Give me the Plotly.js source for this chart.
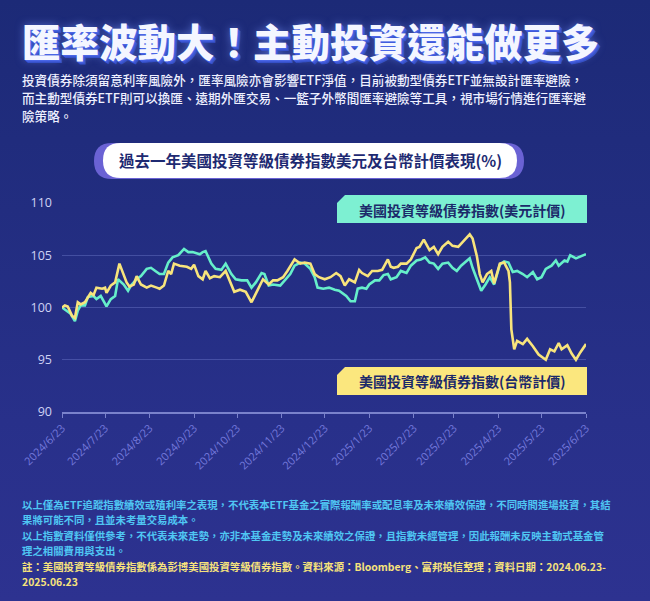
<!DOCTYPE html>
<html>
<head>
<meta charset="utf-8">
<script src="https://cdn.plot.ly/plotly-3.0.1.min.js"></script>
<style>
html,body{margin:0;padding:0;}
body{width:650px;height:601px;overflow:hidden;background:linear-gradient(180deg,#1c2a77 0%,#222d80 35%,#28308a 70%,#2d3290 100%);}
#chart{width:650px;height:601px;}
</style>
</head>
<body>
<div id="chart"></div>
<script>
// ---- data ----
const usdName = '美國投資等級債券指數(美元計價)';
const twdName = '美國投資等級債券指數(台幣計價)';
const usdDates = ['2024-06-23','2024-06-26','2024-06-29','2024-07-02','2024-07-04','2024-07-06','2024-07-09','2024-07-11','2024-07-15','2024-07-17','2024-07-20','2024-07-22','2024-07-24','2024-07-27','2024-07-30','2024-08-01','2024-08-05','2024-08-08','2024-08-10','2024-08-14','2024-08-17','2024-08-21','2024-08-24','2024-08-27','2024-08-30','2024-09-02','2024-09-05','2024-09-08','2024-09-12','2024-09-16','2024-09-19','2024-09-22','2024-09-27','2024-09-29','2024-10-01','2024-10-05','2024-10-08','2024-10-12','2024-10-15','2024-10-19','2024-10-22','2024-10-26','2024-10-30','2024-11-02','2024-11-05','2024-11-09','2024-11-11','2024-11-14','2024-11-17','2024-11-22','2024-11-26','2024-11-29','2024-12-02','2024-12-06','2024-12-09','2024-12-13','2024-12-16','2024-12-18','2024-12-22','2024-12-26','2024-12-30','2025-01-02','2025-01-07','2025-01-10','2025-01-13','2025-01-15','2025-01-18','2025-01-21','2025-01-23','2025-01-27','2025-01-30','2025-02-02','2025-02-05','2025-02-07','2025-02-11','2025-02-14','2025-02-18','2025-02-21','2025-02-25','2025-02-28','2025-03-03','2025-03-06','2025-03-09','2025-03-12','2025-03-15','2025-03-19','2025-03-22','2025-03-25','2025-03-28','2025-04-01','2025-04-03','2025-04-05','2025-04-08','2025-04-11','2025-04-14','2025-04-17','2025-04-20','2025-04-24','2025-04-27','2025-04-30','2025-05-03','2025-05-06','2025-05-10','2025-05-13','2025-05-17','2025-05-20','2025-05-23','2025-05-26','2025-05-30','2025-06-02','2025-06-04','2025-06-08','2025-06-10','2025-06-12','2025-06-16','2025-06-19','2025-06-23'];
const usdValues = [100.0,99.7,99.4,98.7,99.7,100.2,100.2,101.0,101.1,100.8,101.1,100.6,100.1,100.8,101.1,102.7,102.2,101.6,102.1,102.7,103.0,103.7,103.8,103.5,103.2,103.2,104.3,104.8,105.0,105.6,105.3,105.3,105.1,105.3,105.4,104.2,103.7,103.6,104.2,103.2,102.7,102.6,102.6,101.9,102.4,103.3,103.2,102.1,102.2,102.1,102.7,103.2,104.0,104.3,104.2,103.7,102.9,101.9,101.8,101.9,101.7,101.6,101.1,100.6,100.6,101.8,101.9,101.8,102.2,102.6,102.6,103.1,103.2,102.7,102.9,103.5,103.3,104.0,104.5,104.6,104.8,104.3,104.2,103.7,104.2,104.3,103.8,103.5,104.0,104.5,104.7,103.8,102.7,101.6,102.2,102.9,102.2,104.1,104.4,104.3,103.4,103.5,103.2,102.9,103.4,102.7,102.9,103.7,104.0,104.5,104.0,104.5,104.4,105.0,104.7,104.9,105.1];
const twdDates = ['2024-06-23','2024-06-25','2024-06-27','2024-06-30','2024-07-02','2024-07-04','2024-07-06','2024-07-09','2024-07-13','2024-07-15','2024-07-17','2024-07-21','2024-07-23','2024-07-24','2024-07-27','2024-07-30','2024-08-02','2024-08-04','2024-08-07','2024-08-09','2024-08-12','2024-08-14','2024-08-17','2024-08-21','2024-08-24','2024-08-28','2024-08-30','2024-09-02','2024-09-05','2024-09-07','2024-09-09','2024-09-13','2024-09-18','2024-09-21','2024-09-23','2024-09-26','2024-09-29','2024-10-01','2024-10-04','2024-10-07','2024-10-11','2024-10-15','2024-10-19','2024-10-21','2024-10-25','2024-10-29','2024-11-02','2024-11-05','2024-11-08','2024-11-10','2024-11-14','2024-11-17','2024-11-20','2024-11-24','2024-11-27','2024-12-02','2024-12-06','2024-12-09','2024-12-13','2024-12-16','2024-12-19','2024-12-23','2024-12-27','2024-12-31','2025-01-03','2025-01-06','2025-01-09','2025-01-13','2025-01-16','2025-01-18','2025-01-22','2025-01-25','2025-01-29','2025-02-01','2025-02-05','2025-02-07','2025-02-09','2025-02-12','2025-02-14','2025-02-18','2025-02-21','2025-02-25','2025-02-27','2025-03-02','2025-03-06','2025-03-09','2025-03-12','2025-03-15','2025-03-19','2025-03-22','2025-03-26','2025-03-28','2025-04-01','2025-04-03','2025-04-05','2025-04-08','2025-04-10','2025-04-12','2025-04-15','2025-04-18','2025-04-20','2025-04-24','2025-04-27','2025-04-30','2025-05-01','2025-05-02','2025-05-04','2025-05-06','2025-05-10','2025-05-13','2025-05-17','2025-05-21','2025-05-26','2025-05-29','2025-06-01','2025-06-04','2025-06-06','2025-06-10','2025-06-13','2025-06-16','2025-06-19','2025-06-23'];
const twdValues = [100.0,100.2,100.1,99.2,99.0,100.5,100.3,100.5,101.4,101.2,101.9,101.8,101.9,101.4,102.1,102.4,104.2,103.5,102.4,102.0,102.2,103.0,102.2,101.9,102.1,101.9,101.8,102.1,103.5,103.2,104.2,104.0,103.9,103.7,104.1,103.0,102.7,103.5,102.8,103.0,102.9,103.5,102.1,101.5,101.7,101.5,100.5,101.3,102.1,102.7,102.2,102.6,102.6,102.9,103.5,104.6,104.2,104.3,104.2,103.2,102.9,102.7,102.9,103.3,103.0,102.1,102.7,102.4,103.6,103.3,103.0,103.5,103.5,103.6,104.6,103.9,103.8,103.9,104.2,104.2,104.6,105.7,105.8,106.5,105.5,105.8,105.1,105.8,106.3,105.9,105.8,106.1,106.7,107.0,106.6,104.9,103.2,102.4,103.2,103.5,102.3,104.2,104.3,103.5,102.4,97.9,96.0,96.8,96.5,97.0,96.3,95.5,95.0,96.0,95.8,96.6,96.0,96.4,95.6,95.0,95.7,96.5];
const tickDates = ['2024-06-23','2024-07-23','2024-08-23','2024-09-23','2024-10-23','2024-11-23','2024-12-23','2025-01-23','2025-02-23','2025-03-23','2025-04-23','2025-05-23','2025-06-23'];
const tickLabels = ['2024/6/23','2024/7/23','2024/8/23','2024/9/23','2024/10/23','2024/11/23','2024/12/23','2025/1/23','2025/2/23','2025/3/23','2025/4/23','2025/5/23','2025/6/23'];
const yTicks = [90,95,100,105,110];

const mainTitle = '匯率波動大！主動投資還能做更多';
const introLines = [
  '投資債券除須留意利率風險外，匯率風險亦會影響ETF淨值，目前被動型債券ETF並無設計匯率避險，',
  '而主動型債券ETF則可以換匯、遠期外匯交易、一籃子外幣間匯率避險等工具，視市場行情進行匯率避',
  '險策略。'
];
const chartTitle = '過去一年美國投資等級債券指數美元及台幣計價表現(%)';
const noteLines = [
  '以上僅為ETF追蹤指數績效或殖利率之表現，不代表本ETF基金之實際報酬率或配息率及未來績效保證，不同時間進場投資，其結',
  '果將可能不同，且並未考量交易成本。',
  '以上指數資料僅供參考，不代表未來走勢，亦非本基金走勢及未來績效之保證，且指數未經管理，因此報酬未反映主動式基金管',
  '理之相關費用與支出。'
];
const sourceLines = [
  '註：美國投資等級債券指數係為彭博美國投資等級債券指數。資料來源：Bloomberg、富邦投信整理；資料日期：2024.06.23-',
  '2025.06.23'
];

// ---- layout helpers (pixel -> paper) ----
const W = 650, H = 601, L = 62, R = 64, T = 203, B = 189;
const PW = W - L - R, PH = H - T - B;
const px = x => (x - L) / PW;
const py = y => (H - B - y) / PH;
function pathFrom(pts) {
  return pts.map(p => (p[0] === 'Z' ? 'Z' : (p[0] + px(p[1]).toFixed(5) + ',' + py(p[2]).toFixed(5) + (p.length > 3 ? ' ' + px(p[3]).toFixed(5) + ',' + py(p[4]).toFixed(5) : '')))).join(' ');
}
function pill(x0, y0, x1, y1) {
  const r = (y1 - y0) / 2;
  return pathFrom([
    ['M', x0 + r, y0], ['L', x1 - r, y0], ['Q', x1, y0, x1, y0 + r], ['Q', x1, y1, x1 - r, y1],
    ['L', x0 + r, y1], ['Q', x0, y1, x0, y1 - r], ['Q', x0, y0, x0 + r, y0], ['Z']
  ]);
}
function notchBox(x0, y0, x1, y1, n) {
  return pathFrom([['M', x0 + n, y0], ['L', x1, y0], ['L', x1, y1], ['L', x0, y1], ['L', x0, y0 + n], ['Z']]);
}

const CJK = '"Noto Sans CJK TC", "Noto Sans", sans-serif';
const teal = '#66efca', yellow = '#f8e47c';

const traces = [
  {x: usdDates, y: usdValues, type: 'scatter', mode: 'lines', name: usdName,
   line: {color: teal, width: 2.6}, hoverinfo: 'skip'},
  {x: twdDates, y: twdValues, type: 'scatter', mode: 'lines', name: twdName,
   line: {color: yellow, width: 2.6}, hoverinfo: 'skip'}
];

const annotations = [];
function addText(text, x, y, opts) {
  annotations.push(Object.assign({text: text, xref: 'paper', yref: 'paper', x: px(x), y: py(y),
    showarrow: false, xanchor: 'left', yanchor: 'middle', borderpad: 0}, opts));
}
// main title with extruded blue shadow
addText(mainTitle, 21, 40, {font: {family: CJK, size: 38.5, color: '#f4f6ff', weight: 900,
  shadow: '1px 1px 0 #4a66e6, 2px 2px 0 #3f59d8, 3px 3px 0 #3550c8, 0 0 8px rgba(120,150,255,0.6)'}});
introLines.forEach((t, i) => addText(t, 21, 80 + i * 18, {font: {family: CJK, size: 12.6, color: '#eef0ff', weight: 500}}));
addText(chartTitle, 310, 160, {xanchor: 'center', font: {family: CJK, size: 15.5, color: '#1e2a72', weight: 700}});
addText(usdName, 462, 209.5, {xanchor: 'center', font: {family: CJK, size: 14, color: '#1c2a6a', weight: 700}});
addText(twdName, 462, 381, {xanchor: 'center', font: {family: CJK, size: 14, color: '#1c2a6a', weight: 700}});
noteLines.forEach((t, i) => addText(t, 21, 504 + i * 15.5, {font: {family: CJK, size: 10.4, color: '#4fc6f3', weight: 700}}));
sourceLines.forEach((t, i) => addText(t, 21, 566 + i * 15, {font: {family: CJK, size: 10.4, color: '#f6e27c', weight: 700}}));

const shapes = [
  {type: 'path', xref: 'paper', yref: 'paper', path: pill(94, 143, 524, 179), fillcolor: '#6a62d4', line: {width: 0}, layer: 'above'},
  {type: 'path', xref: 'paper', yref: 'paper', path: pill(103, 143, 517, 178), fillcolor: '#ffffff', line: {width: 0}, layer: 'above'},
  {type: 'path', xref: 'paper', yref: 'paper', path: notchBox(337, 195, 587, 223, 8), fillcolor: '#7df0d2', line: {width: 0}, layer: 'above'},
  {type: 'path', xref: 'paper', yref: 'paper', path: notchBox(337, 367, 587, 395, 8), fillcolor: '#fbe77e', line: {width: 0}, layer: 'above'}
];

const layout = {
  width: W, height: H,
  margin: {l: L, r: R, t: T, b: B, pad: 0},
  paper_bgcolor: 'rgba(0,0,0,0)', plot_bgcolor: 'rgba(0,0,0,0)',
  showlegend: false,
  xaxis: {
    type: 'date', range: ['2024-06-23', '2025-06-23'],
    tickvals: tickDates, ticktext: tickLabels, tickangle: -45,
    tickfont: {family: '"Open Sans", "DejaVu Sans", sans-serif', size: 11, color: '#7479dc'},
    showgrid: false, zeroline: false,
    showline: true, linecolor: 'rgba(150,158,225,0.75)', linewidth: 1.5,
    ticks: 'outside', ticklen: 4, tickcolor: 'rgba(150,158,225,0.75)', tickwidth: 1
  },
  yaxis: {
    range: [90, 110], tickvals: yTicks, ticktext: yTicks.map(String),
    tickfont: {family: '"Open Sans", "DejaVu Sans", sans-serif', size: 12.5, color: '#cfd2f4'},
    showgrid: true, gridcolor: 'rgba(130,140,220,0.35)', gridwidth: 1,
    zeroline: false, showline: false, ticks: '', ticklabelstandoff: 9
  },
  shapes: shapes,
  annotations: annotations
};

Plotly.newPlot('chart', traces, layout, {displayModeBar: false, staticPlot: true});
</script>
</body>
</html>
